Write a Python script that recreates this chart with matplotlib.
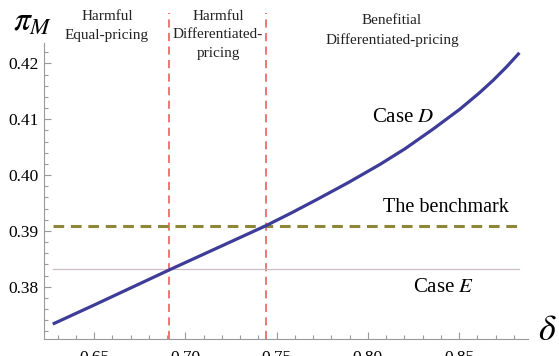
import matplotlib
matplotlib.use("Agg")
import matplotlib.pyplot as plt
from matplotlib.ticker import MultipleLocator, FormatStrFormatter

# Case D profit curve (delta, pi_M)
delta_d = [0.6274, 0.650, 0.6912, 0.7440, 0.7580, 0.7720, 0.7890, 0.8066, 0.8203, 0.8360,
           0.8504, 0.8610, 0.8687, 0.8760, 0.8830]
pi_d = [0.3733, 0.3767, 0.3830, 0.3909, 0.3932, 0.3956, 0.3986, 0.4019, 0.4047, 0.4083,
        0.4118, 0.4147, 0.4170, 0.4194, 0.4219]

# flat reference levels
benchmark = 0.3908
case_e = 0.3832
delta_range = [0.6274, 0.8830]

# region boundaries
thresholds = [0.6912, 0.7440]

region_titles = [
    ["Harmful", "Equal-pricing"],
    ["Harmful", "Differentiated-", "pricing"],
    ["Benefitial", "Differentiated-pricing"],
]

W, H = 559, 356
plt.rcParams["font.family"] = ["Liberation Serif", "DejaVu Serif"]
plt.rcParams["mathtext.fontset"] = "stix"

fig = plt.figure(figsize=(W / 100, H / 100), dpi=100)
ax = fig.add_axes([44 / W, 1 - 339.3 / H, (528 - 44) / W, (339.3 - 13) / H])

x0, x1 = 0.6226, 0.8877
y0, y1 = 0.37057, 0.42903
ax.set_xlim(x0, x1)
ax.set_ylim(y0, y1)

axis_col = "#9a9a9a"
for s in ["top", "right"]:
    ax.spines[s].set_visible(False)
for s in ["left", "bottom"]:
    ax.spines[s].set_color(axis_col)
    ax.spines[s].set_linewidth(0.8)
ax.spines["left"].set_bounds(y0, 0.4237)

ax.xaxis.set_major_locator(MultipleLocator(0.05))
ax.xaxis.set_minor_locator(MultipleLocator(0.01))
ax.xaxis.set_major_formatter(FormatStrFormatter("%.2f"))
ax.yaxis.set_major_formatter(FormatStrFormatter("%.2f"))
ax.set_yticks([0.38, 0.39, 0.40, 0.41, 0.42])
ax.set_yticks([v / 1000 for v in range(372, 424, 2)], minor=True)
ax.tick_params(which="both", direction="in", color=axis_col, width=0.8, labelsize=12.5)
ax.tick_params(which="major", length=5)
ax.tick_params(which="minor", length=3)
ax.tick_params(axis="x", pad=8)
ax.tick_params(axis="y", pad=4)

# region boundaries
for t in thresholds:
    ax.plot([t, t], [y0, y1], color="#ef6a6a", lw=1.3, ls=(0, (4.5, 3)), clip_on=False)

ax.plot(delta_range, [case_e, case_e], color="#cbbccb", lw=0.9)
ax.plot(delta_range, [benchmark, benchmark], color="#8f8738", lw=2.2, ls=(0, (3.5, 2.2)))
ax.plot(delta_d, pi_d, color="#3d3d99", lw=2.3, solid_capstyle="butt", solid_joinstyle="round")

def px(x, y, s, **kw):
    fig.text(x / W, 1 - y / H, s, ha="center", va="center", **kw)

# region titles
for (cx, ys), lines in zip([(107, [16, 35]), (218, [16, 35, 54]), (392, [20, 40])], region_titles):
    for yy, line in zip(ys, lines):
        px(cx, yy, line, fontsize=11, color="#222222")

px(403, 117, r"Case $D$", fontsize=15)
px(446, 207, "The benchmark", fontsize=14.5)
px(444, 287, r"Case $E$", fontsize=15)

px(33, 22, r"$\pi_M$", fontsize=24)
px(547, 332, r"$\delta$", fontsize=26)

fig.savefig("out.png", dpi=100)
